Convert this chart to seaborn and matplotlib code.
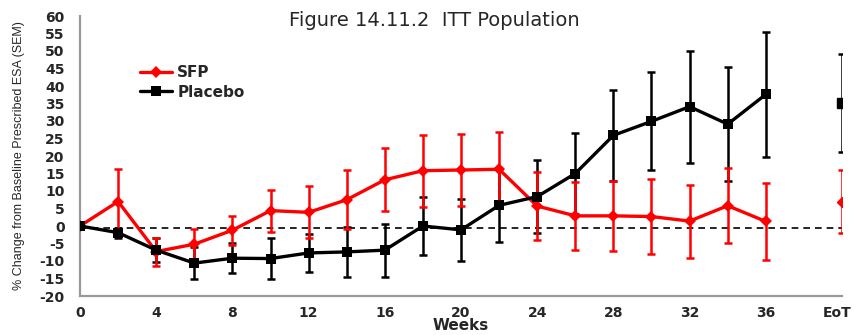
import matplotlib
matplotlib.use("Agg")
import matplotlib.pyplot as plt
import matplotlib.transforms as mtransforms
import seaborn as sns
import pandas as pd
import numpy as np

weeks = [0, 2, 4, 6, 8, 10, 12, 14, 16, 18, 20, 22, 24, 26, 28, 30, 32, 34, 36]
eot_pos = 40
tick_positions = [0, 4, 8, 12, 16, 20, 24, 28, 32, 36, 40]
tick_labels = ["0", "4", "8", "12", "16", "20", "24", "28", "32", "36", "EoT"]
y_ticks = [-20, -15, -10, -5, 0, 5, 10, 15, 20, 25, 30, 35, 40, 45, 50, 55, 60]

sfp_mean = [0, 7.0, -7.3, -5.2, -1.2, 4.4, 3.9, 7.5, 13.2, 15.8, 16.0, 16.2, 5.7, 2.9, 2.9, 2.7, 1.4, 5.8, 1.3]
sfp_sem = [0, 9.3, 4.0, 4.4, 4.1, 6.0, 7.4, 8.4, 9.0, 10.3, 10.2, 10.6, 9.7, 9.8, 10.0, 10.8, 10.4, 10.7, 10.9]
sfp_eot_mean = 6.9
sfp_eot_sem = 9.0

pbo_mean = [0, -1.9, -6.9, -10.6, -9.2, -9.3, -7.7, -7.4, -6.9, 0.0, -1.1, 5.9, 8.4, 15.0, 25.9, 29.9, 34.1, 29.1, 37.6]
pbo_sem = [0, 1.4, 3.4, 4.5, 4.3, 5.9, 5.4, 7.2, 7.6, 8.2, 8.8, 10.5, 10.5, 11.5, 13.1, 14.0, 16.0, 16.2, 17.8]
pbo_eot_mean = 35.1
pbo_eot_sem = 14.0

RED = "#ff0000"
BLACK = "#000000"

sns.set_theme(style="white")
plt.rcParams["font.family"] = ["DejaVu Sans"]

df = pd.concat([
    pd.DataFrame({"week": weeks, "value": sfp_mean, "group": "SFP"}),
    pd.DataFrame({"week": weeks, "value": pbo_mean, "group": "Placebo"}),
])

fig = plt.figure(figsize=(8.57, 3.35), dpi=100)
ax = fig.add_axes([80 / 857, 1 - 296 / 335, (842 - 80) / 857, (296 - 16) / 335])

# dashed reference line
ax.plot([0, 40], [-0.6, -0.6], ls=(0, (4, 3)), color="black", lw=1.2, zorder=1)

# error bars
eb = dict(elinewidth=1.8, capsize=3, capthick=1.8)
ax.errorbar(weeks, pbo_mean, yerr=pbo_sem, fmt="none", ecolor=BLACK, zorder=2, **eb)
ax.errorbar(weeks, sfp_mean, yerr=sfp_sem, fmt="none", ecolor=RED, zorder=3, **eb)
ax.errorbar([eot_pos], [pbo_eot_mean], yerr=[pbo_eot_sem], fmt="s", color=BLACK, ms=6.5, zorder=4, **eb)
ax.errorbar([eot_pos], [sfp_eot_mean], yerr=[sfp_eot_sem], fmt="D", color=RED, ms=5.5, zorder=5, **eb)

sns.lineplot(data=df, x="week", y="value", hue="group", style="group",
             palette={"SFP": RED, "Placebo": BLACK},
             markers={"SFP": "D", "Placebo": "s"}, dashes=False,
             hue_order=["SFP", "Placebo"],
             lw=2.4, markersize=6.5, markeredgewidth=0, ax=ax, zorder=6)

for s in ["top", "right"]:
    ax.spines[s].set_visible(False)
for s in ["left", "bottom"]:
    ax.spines[s].set_color("#999999")
    ax.spines[s].set_linewidth(1.6)
    ax.spines[s].set_clip_on(False)

ax.set_xlim(0, 40)
ax.set_ylim(-20, 60)
ax.set_yticks(y_ticks)
ax.set_yticklabels([str(v) for v in y_ticks], fontweight="bold", fontsize=10)
ax.set_xticks(tick_positions)
ax.set_xticklabels(tick_labels, fontweight="bold", fontsize=10)
ax.tick_params(axis="both", direction="out", length=3.6, width=1.4, color="#999999")
ax.tick_params(axis="y", pad=7.5)
ax.tick_params(axis="x", pad=3.5)

# nudge the EoT label slightly left, as in the reference
eot_label = ax.get_xticklabels()[-1]
eot_label.set_transform(eot_label.get_transform() +
                        mtransforms.ScaledTranslation(-5 / 100, 0, fig.dpi_scale_trans))

ax.set_xlabel("Weeks", fontsize=11, fontweight="bold", labelpad=-1)
ax.set_ylabel("% Change from Baseline Prescribed ESA (SEM)", fontsize=9,
              family=["Liberation Sans"])
ax.yaxis.set_label_coords(-0.072, 0.5)

leg = ax.legend(loc="upper left", bbox_to_anchor=(0.071, 0.846), frameon=False,
                prop={"weight": "bold", "size": 11}, handlelength=2.1,
                handletextpad=0.33, labelspacing=0.3, borderaxespad=0)

fig.text(434 / 857, 1 - 21 / 335, "Figure 14.11.2  ITT Population", fontsize=14,
         ha="center", va="center")

fig.savefig("out.png", dpi=100)
